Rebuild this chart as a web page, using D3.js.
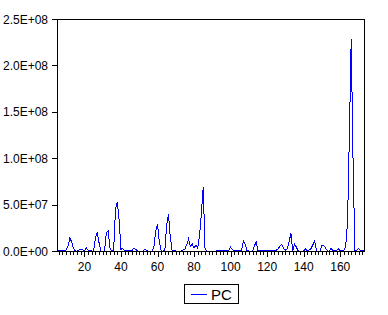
<!DOCTYPE html>
<meta charset="utf-8">
<script src="https://d3js.org/d3.v7.min.js"></script>
<style>
  body { margin: 0; background: #fff; }
  text { font-family: "Liberation Sans", Arial, sans-serif; }
</style>
<div id="chart"></div>
<script>

// observations 5..173, values of PC in units of 1E+07
const firstObs = 5;
const pcE7 = [
  0.1, 0.1, 0.1, 0.0, 0.05, 0.1, 0.5, 1.4, 1.0, 0.3,          // 5-14
  0.0, 0.0, 0.1, 0.15, 0.15, 0.0, 0.35, 0.1, 0.05, 0.0,        // 15-24
  0.0, 1.4, 1.95, 0.9, 0.0, 0.0, 0.0, 2.0, 2.2, 0.3,           // 25-34
  0.0, 0.1, 4.5, 5.3, 3.3, 0.2, 0.25, 0.05, 0.05, 0.05,        // 35-44
  0.05, 0.05, 0.3, 0.2, 0.0, 0.0, 0.0, 0.0, 0.2, 0.05,         // 45-54
  0.0, 0.0, 0.0, 0.4, 2.1, 2.9, 1.0, 0.0, 0.0, 0.05,           // 55-64
  2.8, 4.0, 1.5, 0.05, 0.05, 0.0, 0.0, 0.0, 0.0, 0.1,          // 65-74
  0.2, 0.7, 1.3, 0.5, 0.75, 0.3, 0.65, 0.3, 1.7, 4.0,          // 75-84
  6.9, 0.3, 0.0, 0.0, 0.0, 0.0, 0.0, 0.0, 0.05, 0.05,          // 85-94
  0.05, 0.05, 0.05, 0.05, 0.05, 0.4, 0.15, 0.05, 0.05, 0.05,   // 95-104
  0.05, 0.05, 1.1, 0.7, 0.05, 0.0, 0.0, 0.0, 0.55, 1.0,        // 105-114
  0.05, 0.05, 0.05, 0.05, 0.05, 0.05, 0.05, 0.1, 0.1, 0.1,     // 115-124
  0.1, 0.25, 0.5, 0.75, 0.25, 0.1, 0.25, 1.0, 1.9, 0.0,        // 125-134
  0.75, 0.4, 0.0, 0.0, 0.0, 0.0, 0.2, 0.0, 0.1, 0.25,          // 135-144
  0.65, 1.1, 0.0, 0.0, 0.0, 0.6, 0.6, 0.3, 0.0, 0.0,           // 145-154
  0.3, 0.0, 0.05, 0.05, 0.25, 0.0, 0.1, 0.1, 0.5, 3.2,         // 155-164
  12.5, 22.8, 9.8, 0.1, 0.1, 0.25, 0.1, 0.05, 0.05             // 165-173
];
const pc = pcE7.map((v, i) => ({ obs: firstObs + i, value: v * 1e7 }));

const yTicks = [0, 5e7, 1e8, 1.5e8, 2e8, 2.5e8];
const yTickLabels = ["0.0E+00", "5.0E+07", "1.0E+08", "1.5E+08", "2.0E+08", "2.5E+08"];
const xTicks = [20, 40, 60, 80, 100, 120, 140, 160];
const seriesName = "PC";

const width = 388, height = 315;
const plot = { left: 57, right: 364, top: 19, bottom: 251 };

const svg = d3.select("#chart").append("svg")
    .attr("width", width)
    .attr("height", height);

const x = d3.scaleLinear()
    .domain([firstObs, firstObs + pcE7.length - 1])
    .range([plot.left, plot.right]);

const y = d3.scaleLinear()
    .domain([0, 2.5e8])
    .range([plot.bottom, plot.top]);

// series line, aliased like the original
const line = d3.line()
    .x(d => x(d.obs))
    .y(d => y(d.value));

svg.append("path")
    .datum(pc)
    .attr("fill", "none")
    .attr("stroke", "#0000ff")
    .attr("stroke-width", 1)
    .attr("shape-rendering", "crispEdges")
    .attr("d", line);

// frame
svg.append("rect")
    .attr("x", plot.left + 0.5)
    .attr("y", plot.top + 0.5)
    .attr("width", plot.right - plot.left)
    .attr("height", plot.bottom - plot.top)
    .attr("fill", "none")
    .attr("stroke", "#000")
    .attr("shape-rendering", "crispEdges");

// y axis ticks + labels
const yAxis = svg.append("g");
yAxis.selectAll("line")
    .data(yTicks)
    .join("line")
    .attr("x1", plot.left - 5)
    .attr("x2", plot.left)
    .attr("y1", d => Math.round(y(d)) + 0.5)
    .attr("y2", d => Math.round(y(d)) + 0.5)
    .attr("stroke", "#000")
    .attr("shape-rendering", "crispEdges");

yAxis.selectAll("text")
    .data(yTicks)
    .join("text")
    .attr("x", plot.left - 9)
    .attr("y", d => y(d) + 4.5)
    .attr("text-anchor", "end")
    .attr("font-size", 12)
    .attr("fill", "#000")
    .text((d, i) => yTickLabels[i]);

// x axis: minor ticks every 2 obs, longer major ticks
const xAxis = svg.append("g");
const minor = d3.range(6, 174, 2).filter(d => xTicks.indexOf(d) < 0);
xAxis.selectAll(".minor")
    .data(minor)
    .join("line")
    .attr("class", "minor")
    .attr("x1", d => Math.round(x(d)) + 0.5)
    .attr("x2", d => Math.round(x(d)) + 0.5)
    .attr("y1", plot.bottom)
    .attr("y2", plot.bottom + 4)
    .attr("stroke", "#000")
    .attr("shape-rendering", "crispEdges");

xAxis.selectAll(".major")
    .data(xTicks)
    .join("line")
    .attr("class", "major")
    .attr("x1", d => Math.round(x(d)) + 0.5)
    .attr("x2", d => Math.round(x(d)) + 0.5)
    .attr("y1", plot.bottom)
    .attr("y2", plot.bottom + 6)
    .attr("stroke", "#000")
    .attr("shape-rendering", "crispEdges");

xAxis.selectAll("text")
    .data(xTicks)
    .join("text")
    .attr("x", d => x(d))
    .attr("y", plot.bottom + 20)
    .attr("text-anchor", "middle")
    .attr("font-size", 12)
    .attr("fill", "#000")
    .text(d => d);

// legend
const legend = svg.append("g").attr("transform", "translate(184,284)");
legend.append("rect")
    .attr("x", 0.5).attr("y", 0.5)
    .attr("width", 54).attr("height", 19)
    .attr("fill", "#fff")
    .attr("stroke", "#000")
    .attr("shape-rendering", "crispEdges");
legend.append("line")
    .attr("x1", 7).attr("x2", 23)
    .attr("y1", 10.5).attr("y2", 10.5)
    .attr("stroke", "#0000ff")
    .attr("shape-rendering", "crispEdges");
legend.append("text")
    .attr("x", 27)
    .attr("y", 16)
    .attr("font-size", 15)
    .attr("fill", "#000")
    .text(seriesName);

</script>
